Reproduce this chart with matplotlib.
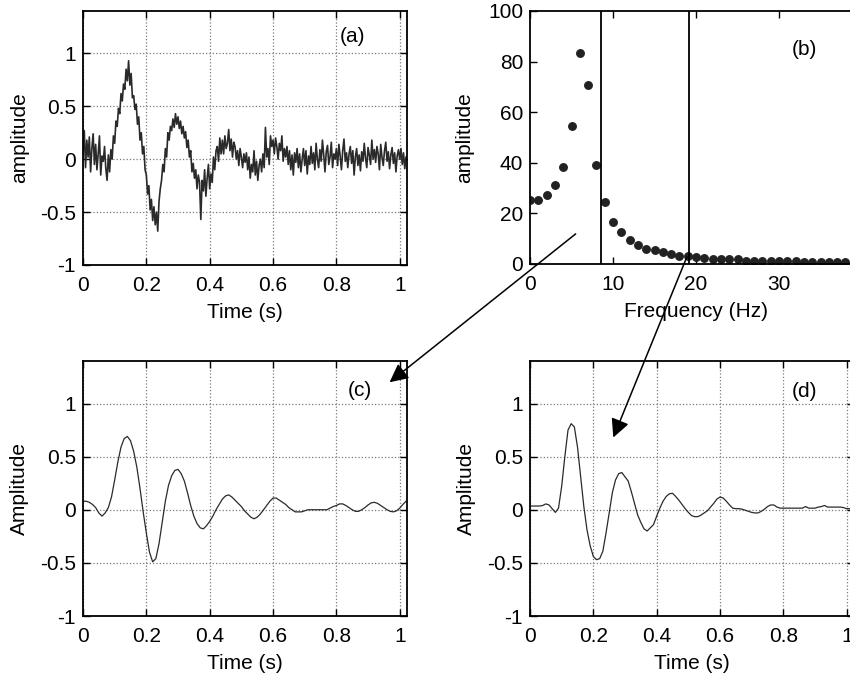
import matplotlib
matplotlib.use("Agg")
import matplotlib.pyplot as plt
import numpy as np

plt.rcParams["font.family"] = ["Liberation Sans", "DejaVu Sans"]
plt.rcParams["font.size"] = 15

# (a) raw noisy record, one value every 4 ms
raw_step = 0.004
raw_signal = [
    0.05, 0.27, -0.08, 0.18, 0.02, 0.21, -0.12, 0.10, 0.24, -0.05,
    0.14, -0.10, 0.05, 0.22, -0.15, 0.03, -0.02, 0.12, -0.09, -0.20,
    0.04, -0.12, 0.09, 0.00, 0.22, 0.15, 0.36, 0.31, 0.48, 0.43,
    0.62, 0.55, 0.71, 0.66, 0.85, 0.74, 0.93, 0.70, 0.81, 0.58,
    0.60, 0.47, 0.52, 0.33, 0.40, 0.18, 0.25, 0.05, 0.12, -0.10,
    -0.15, -0.33, -0.25, -0.48, -0.38, -0.58, -0.45, -0.62, -0.50, -0.68,
    -0.40, -0.28, -0.20, -0.05, -0.12, 0.10, 0.02, 0.25, 0.18, 0.31,
    0.27, 0.38, 0.30, 0.43, 0.33, 0.40, 0.29, 0.36, 0.24, 0.31,
    0.20, 0.26, 0.11, 0.18, 0.02, 0.08, -0.12, -0.04, -0.18, -0.10,
    -0.28, -0.15, -0.22, -0.57, -0.20, -0.30, -0.10, -0.35, -0.18, -0.05,
    -0.28, -0.14, -0.22, 0.02, -0.10, 0.08, 0.12, -0.02, 0.20, 0.05,
    0.18, 0.05, 0.22, 0.10, 0.15, 0.28, 0.08, 0.19, 0.02, 0.16,
    0.12, 0.00, 0.08, -0.06, 0.10, 0.02, -0.08, 0.05, -0.03, 0.06,
    -0.10, 0.02, -0.18, -0.05, -0.12, 0.08, -0.15, -0.02, -0.20, -0.06,
    0.00, -0.12, 0.05, -0.08, 0.30, 0.02, 0.10, -0.05, 0.22, 0.12,
    0.18, 0.05, 0.20, 0.12, 0.00, 0.15, 0.08, 0.22, -0.02, 0.10,
    0.02, 0.12, -0.05, 0.08, -0.10, 0.04, -0.15, 0.06, -0.03, 0.10,
    -0.08, 0.05, -0.12, 0.00, 0.10, -0.06, 0.08, -0.14, 0.03, -0.05,
    0.12, -0.04, 0.06, -0.10, 0.15, 0.00, -0.08, 0.09, -0.02, 0.18,
    0.04, -0.12, 0.07, 0.13, -0.05, 0.02, 0.16, -0.08, 0.05, 0.00,
    0.10, -0.06, 0.14, 0.03, -0.10, 0.08, 0.19, -0.02, 0.06, -0.08,
    0.05, 0.12, -0.04, 0.08, -0.15, 0.02, 0.10, -0.06, 0.04, -0.11,
    0.07, -0.02, 0.15, 0.01, -0.08, 0.11, 0.04, -0.05, 0.18, 0.00,
    0.09, -0.03, 0.12, 0.05, -0.10, 0.14, 0.02, -0.06, 0.08, 0.16,
    -0.02, 0.07, -0.09, 0.04, 0.11, -0.04, 0.06, -0.12, 0.03, 0.09,
    0.00, 0.10, -0.05, 0.06, -0.09, 0.02,
]

# (b) amplitude spectrum, 1 Hz bins
spectrum = [
    25.1, 25.1, 27.2, 31.4, 38.4, 54.6, 83.3, 70.7, 39.1, 24.5,
    16.7, 12.5, 9.6, 7.5, 6.1, 5.4, 4.6, 3.9, 3.3, 3.2,
    2.6, 2.5, 1.8, 2.0, 2.0, 2.0, 1.3, 1.3, 1.3, 1.3,
    1.3, 1.3, 1.3, 0.8, 0.8, 0.8, 0.8, 0.8, 0.8,
]
cutoffs = [8.5, 19.1]

# (c) and (d) filtered records, one value every 10 ms
filt_step = 0.01
filtered_c = [
    0.08, 0.08, 0.07, 0.05, 0.02, -0.03, -0.06, -0.03, 0.02, 0.12,
    0.28, 0.45, 0.59, 0.67, 0.69, 0.65, 0.55, 0.40, 0.20, -0.02,
    -0.22, -0.40, -0.49, -0.46, -0.32, -0.12, 0.08, 0.23, 0.32, 0.37,
    0.38, 0.34, 0.27, 0.16, 0.04, -0.06, -0.13, -0.17, -0.18, -0.15,
    -0.11, -0.06, 0.00, 0.05, 0.10, 0.13, 0.14, 0.12, 0.09, 0.06,
    0.03, -0.01, -0.04, -0.07, -0.085, -0.07, -0.04, 0.00, 0.04, 0.08,
    0.11, 0.11, 0.09, 0.07, 0.05, 0.02, 0.00, -0.02, -0.02, -0.02,
    -0.01, 0.00, 0.00, 0.00, 0.00, 0.00, 0.00, 0.00, 0.015, 0.03,
    0.04, 0.055, 0.055, 0.04, 0.02, 0.00, -0.015, -0.015, 0.00, 0.02,
    0.045, 0.065, 0.07, 0.06, 0.04, 0.02, 0.00, -0.015, -0.02, -0.01,
    0.015, 0.05, 0.08,
]
filtered_d = [
    0.035, 0.035, 0.035, 0.035, 0.04, 0.055, 0.045, 0.01, -0.025, 0.015,
    0.22, 0.50, 0.75, 0.81, 0.78, 0.59, 0.31, 0.03, -0.19, -0.34,
    -0.44, -0.47, -0.46, -0.39, -0.22, -0.03, 0.16, 0.28, 0.34, 0.35,
    0.31, 0.27, 0.17, 0.06, -0.05, -0.12, -0.18, -0.20, -0.17, -0.14,
    -0.06, 0.015, 0.08, 0.125, 0.15, 0.155, 0.125, 0.09, 0.05, 0.01,
    -0.025, -0.055, -0.065, -0.065, -0.05, -0.03, -0.01, 0.025, 0.06, 0.10,
    0.12, 0.11, 0.08, 0.045, 0.015, 0.01, 0.01, 0.005, -0.005, -0.015,
    -0.025, -0.03, -0.03, -0.015, 0.005, 0.03, 0.045, 0.045, 0.025, 0.015,
    0.015, 0.015, 0.015, 0.015, 0.015, 0.015, 0.015, 0.03, 0.015, 0.015,
    0.015, 0.025, 0.03, 0.04, 0.025, 0.025, 0.025, 0.025, 0.025, 0.02,
    0.01, 0.01, 0.015,
]

time_ticks = [0, 0.2, 0.4, 0.6, 0.8, 1]
time_labels = ["0", "0.2", "0.4", "0.6", "0.8", "1"]
amp_ticks = [-1, -0.5, 0, 0.5, 1]
amp_labels = ["-1", "-0.5", "0", "0.5", "1"]
freq_ticks = [0, 10, 20, 30]
spec_ticks = [0, 20, 40, 60, 80, 100]

W, H = 850, 678


def box(left, top, right, bottom):
    """Axes rectangle from pixel edges."""
    return [left / W, 1 - bottom / H, (right - left) / W, (bottom - top) / H]


def style(ax, grid=True):
    ax.tick_params(direction="in", top=True, right=True, length=5,
                   width=1, labelsize=15)
    ax.tick_params(axis="x", pad=8)
    ax.tick_params(axis="y", pad=5)
    for sp in ax.spines.values():
        sp.set_linewidth(1.3)
    if grid:
        ax.grid(True, color="#7a7a7a", linestyle=":", linewidth=0.9)


def time_panel(ax, t, y, ylabel, tag, tag_xy, lw=0.9):
    ax.plot(t, y, color="#2a2a2a", linewidth=lw)
    ax.set_xlim(0, 1.023)
    ax.set_ylim(-1, 1.4)
    ax.set_xticks(time_ticks, time_labels)
    ax.set_yticks(amp_ticks, amp_labels)
    ax.set_xlabel("Time (s)", labelpad=6)
    ax.set_ylabel(ylabel, labelpad=8)
    ax.text(*tag_xy, tag, ha="center", va="center")
    style(ax)


fig = plt.figure(figsize=(W / 100, H / 100), dpi=100)
ax_a = fig.add_axes(box(83, 11, 407, 265))
ax_b = fig.add_axes(box(530, 11, 862, 264))
ax_c = fig.add_axes(box(83, 361, 407, 616))
ax_d = fig.add_axes(box(530, 361, 854, 616))

t_raw = np.arange(len(raw_signal)) * raw_step
time_panel(ax_a, t_raw, raw_signal, "amplitude", "(a)", (0.85, 1.16), lw=1.2)

freqs = np.arange(len(spectrum))
ax_b.plot(freqs, spectrum, "o", color="#222222", markersize=5.4)
for fc in cutoffs:
    ax_b.axvline(fc, color="black", linewidth=1.3)
ax_b.set_xlim(0, 40)
ax_b.set_ylim(0, 100)
ax_b.set_xticks(freq_ticks)
ax_b.set_yticks(spec_ticks)
ax_b.set_xlabel("Frequency (Hz)", labelpad=6)
ax_b.set_ylabel("amplitude", labelpad=10)
ax_b.text(33.1, 84.6, "(b)", ha="center", va="center")
style(ax_b, grid=False)

t_filt = np.arange(len(filtered_c)) * filt_step
time_panel(ax_c, t_filt, filtered_c, "Amplitude", "(c)", (0.874, 1.125))
time_panel(ax_d, t_filt, filtered_d, "Amplitude", "(d)", (0.867, 1.11))

arrow = dict(arrowstyle="-|>", color="black", lw=1.1, mutation_scale=28,
             shrinkA=0, shrinkB=0)
ax_d.annotate("", xy=(0.968, 1.20), xycoords=ax_c.transData,
              xytext=(5.5, 11.9), textcoords=ax_b.transData,
              arrowprops=arrow, annotation_clip=False)
ax_d.annotate("", xy=(0.263, 0.68), xycoords=ax_d.transData,
              xytext=(18.9, 2.8), textcoords=ax_b.transData,
              arrowprops=arrow, annotation_clip=False)

fig.savefig("out.png", dpi=100)
